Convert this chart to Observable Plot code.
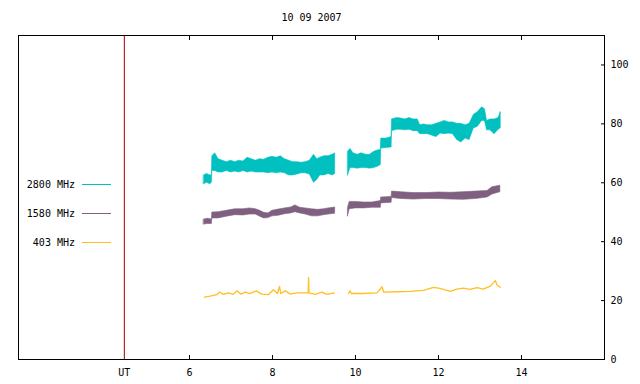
<!DOCTYPE html>
<html>
<head>
<meta charset="utf-8">
<script src="https://cdn.jsdelivr.net/npm/d3@7"></script>
<script src="https://cdn.jsdelivr.net/npm/@observablehq/plot@0.6"></script>
<style>
  html, body { margin: 0; padding: 0; background: white; }
  #chart { position: relative; width: 640px; height: 384px; }
</style>
</head>
<body>
<div id="chart"></div>
<script>
// ---- data ----
const title = "10 09 2007";
const seriesNames = ["2800 MHz", "1580 MHz", "403 MHz"];
const seriesColors = ["#00c0c0", "#806080", "#ffc020"];
const xTicks = [6, 8, 10, 12, 14];
const yTicks = [0, 20, 40, 60, 80, 100];
const utX = 4.43;
const utLabel = "UT";

// 2800 MHz: noisy band (low / high envelope), null = data gap
const t2800 = [6.35,6.42,6.50,6.54,6.55,6.62,6.70,6.80,6.90,7.00,7.10,7.20,7.30,7.40,7.50,7.60,7.70,7.80,7.90,8.00,8.10,8.20,8.30,8.40,8.50,8.60,8.70,8.80,8.90,9.00,9.08,9.15,9.25,9.35,9.45,9.51,9.66,
  9.82,9.88,9.95,10.05,10.15,10.25,10.35,10.45,10.55,10.61,10.62,10.75,10.87,10.88,11.00,11.10,11.20,11.30,11.40,11.50,11.56,11.65,11.75,11.85,11.95,12.05,12.15,12.25,12.35,12.45,12.55,12.65,12.75,12.85,12.95,13.05,13.12,13.17,13.25,13.35,13.45,13.50];
const lo2800 = [59.5,60,59.5,60,64,64,63.5,63.5,64,63.5,63.8,63.5,64,63.5,63.8,63.5,63.5,63.5,63.2,63.5,63.2,63.5,63.2,62.5,62.5,62.8,63.2,63.2,62.8,60,61,62.5,62.5,63,62.5,63,null,
  62.5,65,65,64.8,65,65,64.8,65,65.5,66,71.6,71.8,72,77.5,78,78,77.8,78,77.5,77.5,76.5,76.5,76.5,76,75.5,76.7,76.5,76.7,76.5,74.5,73.7,75,74.5,78.4,79,81,81,77.8,77.8,76.5,78,78.5];
const hi2800 = [62.5,63,62.5,62.5,69,70,68,67.5,67,67.5,67,67.5,67.2,68.5,68,67.5,68,67.8,68.5,68.8,68.5,69,68,67.5,67,67,66.8,67,67.5,69.5,68,68.5,69,69,69.5,70,null,
  70.5,71.5,70,69.5,70,69.5,69.5,70.5,71,71,75,75,75.5,81.5,82,81.8,81.5,82,81.5,81.5,79.5,79.8,79.5,79.5,80,80.5,81,80.5,80.5,80,80,79.5,80,83,84,85.6,85,81,81.5,81.5,82,84];

// 1580 MHz: band
const t1580 = [6.35,6.45,6.54,6.55,6.70,6.90,7.10,7.30,7.45,7.60,7.70,7.80,7.90,8.00,8.15,8.30,8.45,8.55,8.67,8.80,8.95,9.10,9.24,9.35,9.51,9.66,
  9.82,9.86,10.00,10.20,10.40,10.61,10.62,10.87,10.88,11.10,11.40,11.70,12.00,12.30,12.60,12.90,13.18,13.30,13.49];
const lo1580 = [45.8,46,46,47.9,47.9,48.5,49,48.9,49.2,49.2,48.5,47.9,48,48.6,48.8,49.3,49.6,50,49.6,49.2,48.6,48.6,49,49.2,49.5,null,
  48.6,51,51.3,51.3,51.5,51.5,53,53.2,54.8,54.5,54.3,54.5,54.5,54.3,54.2,54.5,55,56,56.8];
const hi1580 = [47.5,47.8,47.5,49.9,50,50.5,51,51,51.3,51,50.5,49.8,49.6,50.5,50.9,51.3,51.6,52.3,51.5,51.3,51,50.8,51,51.3,51.6,null,
  51.5,53.5,53.5,53.3,53.3,53.8,55,55.2,57,56.8,56.5,56.5,56.7,56.6,56.8,57,57.2,58.5,59];

// 403 MHz: line
const t403 = [6.36,6.50,6.66,6.72,6.82,6.94,7.05,7.14,7.24,7.34,7.45,7.61,7.74,7.90,8.02,8.12,8.17,8.20,8.31,8.43,8.59,8.86,8.87,8.88,9.03,9.19,9.31,9.49,9.66,
  9.83,9.87,9.90,10.19,10.52,10.64,10.68,11.00,11.32,11.64,11.88,12.00,12.12,12.28,12.44,12.60,12.76,12.93,13.08,13.25,13.37,13.41,13.49];
const v403 = [21.2,21.5,22.0,22.9,22.1,22.6,22.1,23.3,22.2,22.9,22.4,23.3,22.2,22.0,23.7,22.4,24.8,22.4,23.3,22.2,22.6,22.6,27.8,22.6,22.1,22.9,22.1,22.6,null,
  22.4,23.3,22.4,22.4,22.6,24.7,22.9,23.0,23.1,23.5,24.5,24.2,23.8,23.1,23.9,24.2,23.8,24.4,23.9,24.9,26.8,25.3,24.5];

// ---- tables built from the arrays ----
const band2800 = t2800.map((t, i) => ({t, lo: lo2800[i], hi: hi2800[i]}));
const band1580 = t1580.map((t, i) => ({t, lo: lo1580[i], hi: hi1580[i]}));
const line403 = t403.map((t, i) => ({t, v: v403[i]}));

const font = "'DejaVu Sans Mono', monospace";

const plot = Plot.plot({
  width: 640,
  height: 384,
  marginLeft: 18,
  marginRight: 36,
  marginTop: 35,
  marginBottom: 25,
  x: {domain: [1.88, 16]},
  y: {domain: [0, 110]},
  style: {fontFamily: font, fontSize: "10px", background: "white", color: "black"},
  marks: [
    Plot.areaY(band2800, {x: "t", y1: "lo", y2: "hi", fill: seriesColors[0], stroke: seriesColors[0], strokeWidth: 0.6}),
    Plot.areaY(band1580, {x: "t", y1: "lo", y2: "hi", fill: seriesColors[1], stroke: seriesColors[1], strokeWidth: 0.6}),
    Plot.lineY(line403, {x: "t", y: "v", stroke: seriesColors[2], strokeWidth: 1.3}),
    Plot.ruleX([utX], {stroke: "#a00000", strokeWidth: 1}),
    Plot.frame({stroke: "black"}),
    Plot.axisX(xTicks, {anchor: "bottom", tickSize: -4, tickPadding: 13, label: null, fontSize: 10}),
    Plot.axisX(xTicks, {anchor: "top", tickSize: -4, tickFormat: () => "", label: null}),
    Plot.axisX([utX], {anchor: "bottom", tickSize: 0, tickPadding: 9, tickFormat: () => utLabel, label: null}),
    Plot.axisY(yTicks, {anchor: "right", tickSize: -4, tickPadding: 10, label: null}),
    Plot.text([title], {frameAnchor: "top", lineAnchor: "middle", dy: -18, text: d => d, fontSize: 10})
  ]
});

// legend (layout only)
const svg = d3.select(plot);
const lg = svg.append("g").attr("font-family", font).attr("font-size", 10);
seriesNames.forEach((name, i) => {
  const y = 184.5 + i * 29;
  lg.append("text").attr("x", 75).attr("y", y).attr("dy", "0.35em")
    .attr("text-anchor", "end").attr("fill", "black").text(name);
  lg.append("line").attr("x1", 82).attr("x2", 111).attr("y1", y).attr("y2", y)
    .attr("stroke", seriesColors[i]).attr("stroke-width", 1);
});

document.getElementById("chart").appendChild(plot);
</script>
</body>
</html>
